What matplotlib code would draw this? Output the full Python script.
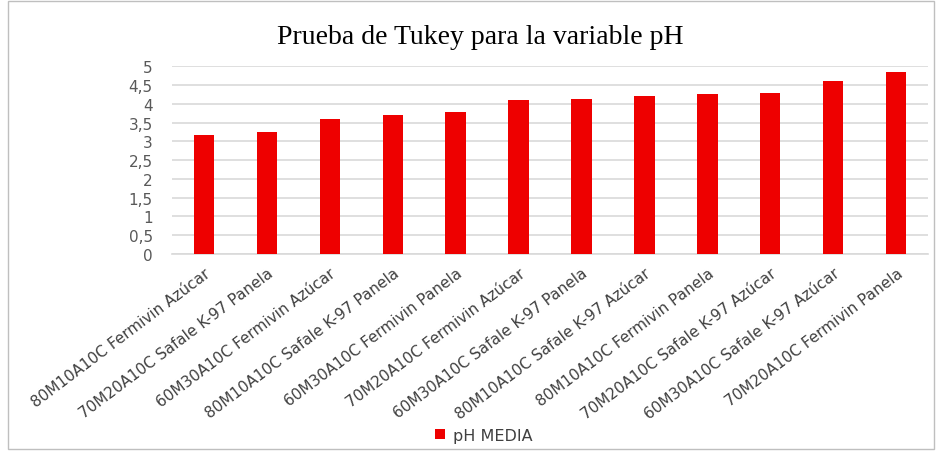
import numpy as np
import matplotlib.pyplot as plt
from matplotlib.patches import Rectangle

# Tratamientos ordenados por pH medio
tratamientos = [
    '80M10A10C Fermivin Azúcar',
    '70M20A10C Safale K-97 Panela',
    '60M30A10C Fermivin Azúcar',
    '80M10A10C Safale K-97 Panela',
    '60M30A10C Fermivin Panela',
    '70M20A10C Fermivin Azúcar',
    '60M30A10C Safale K-97 Panela',
    '80M10A10C Safale K-97 Azúcar',
    '80M10A10C Fermivin Panela',
    '70M20A10C Safale K-97 Azúcar',
    '60M30A10C Safale K-97 Azúcar',
    '70M20A10C Fermivin Panela',
]
ph_media = [3.18, 3.24, 3.59, 3.69, 3.79, 4.09, 4.13, 4.21, 4.26, 4.28, 4.60, 4.84]
yticks = [0, 0.5, 1, 1.5, 2, 2.5, 3, 3.5, 4, 4.5, 5]
ytick_labels = ['0', '0,5', '1', '1,5', '2', '2,5', '3', '3,5', '4', '4,5', '5']

gray = '#595959'

fig = plt.figure(figsize=(9.41, 4.52), dpi=100)
ax = fig.add_axes([0.183, 0.436, 0.803, 0.415])

x = np.arange(len(tratamientos))
ax.bar(x, ph_media, width=0.32, color='#EE0000', label='pH MEDIA', zorder=3)

ax.set_ylim(0, 5)
ax.set_xlim(-0.5, len(tratamientos) - 0.5)
ax.set_yticks(yticks)
ax.set_yticklabels(ytick_labels, color=gray, fontsize=11)
ax.set_xticks(x)
ax.set_xticklabels(tratamientos, rotation=37, ha='right', rotation_mode='anchor',
                   color='#404040', fontsize=11)
ax.tick_params(axis='y', length=0, pad=14)
ax.tick_params(axis='x', length=0, pad=8)
ax.grid(axis='y', color='#D9D9D9', linewidth=1.2, zorder=0)
for s in ['top', 'right', 'left']:
    ax.spines[s].set_visible(False)
ax.spines['bottom'].set_color('#D9D9D9')
ax.spines['bottom'].set_linewidth(1.2)

fig.text(0.51, 0.917, 'Prueba de Tukey para la variable pH', ha='center', va='center',
         fontsize=20, family='Liberation Serif')

fig.legend(loc='center', bbox_to_anchor=(0.514, 0.035), frameon=False, fontsize=11.5,
           handlelength=0.6, handleheight=0.6, handletextpad=0.5, labelcolor='#404040')

# marco exterior
fig.patches.append(Rectangle((0.008, 0.005), 0.985, 0.99, transform=fig.transFigure,
                             fill=False, edgecolor='#BFBFBF', linewidth=1))

fig.savefig('out.png', dpi=100)
